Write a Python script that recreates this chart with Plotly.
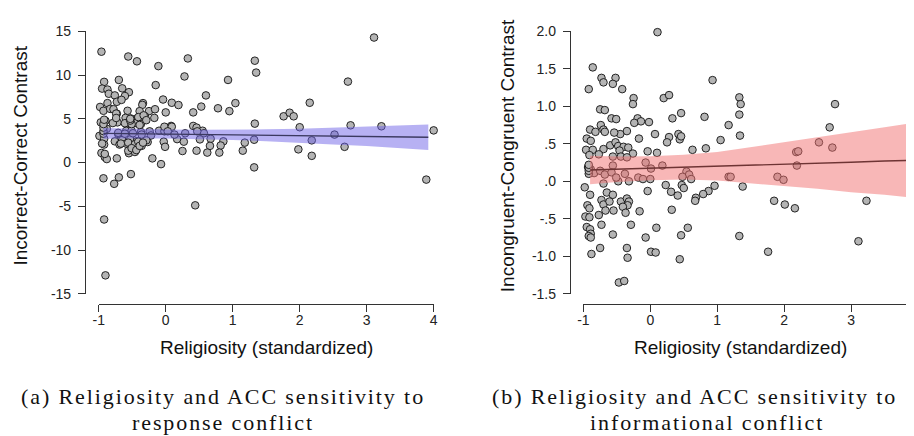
import plotly.graph_objects as go

# ---------------- data: panel (a) ----------------
a_x = [-0.96,-0.56,-0.43,0.33,-0.11,1.33,1.35,3.11,0.28,0.93,2.72,-0.92,-0.70,-0.95,-0.87,-0.85,-0.76,-0.65,-0.55,-0.61,
       -0.73,-0.66,-0.15,-0.04,0.09,0.19,0.60,1.04,0.53,0.78,0.95,0.00,0.41,2.15,1.76,1.85,1.91,-0.98,-0.93,-0.87,
       -0.83,-0.78,-0.57,-0.73,-0.34,-0.35,-0.39,-0.25,-0.31,-0.16,-0.17,-0.43,-0.60,-0.52,-0.90,-0.97,-0.72,-0.79,-0.57,-0.46,
       -0.37,1.33,2.76,3.22,0.41,0.46,-0.01,0.08,2.00,-1.04,-0.88,-0.99,-0.71,-0.59,-0.51,-0.37,-0.24,-0.10,-0.02,0.17,
       0.29,0.55,0.57,4.00,2.52,-0.92,-0.76,-0.65,-0.53,-0.43,-0.27,-0.03,0.27,0.51,0.67,0.86,1.18,1.32,2.18,-0.92,
       -0.69,-0.59,-0.50,-0.43,-0.36,-0.01,0.66,0.82,2.67,-0.96,-0.55,-0.46,0.25,0.46,0.62,0.80,1.15,1.98,-0.91,-0.88,
       -0.73,-0.20,2.18,-0.07,1.32,-0.93,-0.70,-0.52,-0.77,3.89,0.44,-0.92,-0.90,
       -0.74,-0.74,-0.41,-0.33,-0.29,-0.61,-0.51,-0.39,-0.71,-0.61,-0.49,-0.36,-0.22,-0.02,0.09,0.03,0.13,0.47,-0.67,-0.56,
       -0.46,-0.41,-0.29,-0.95,-0.91,-0.56,-0.51,-0.44,-0.39,-0.34,-0.93,-0.93,-0.93,-0.93,-0.92,-0.53,-0.53]
a_y = [12.68,12.13,11.58,11.91,11.03,11.65,10.29,14.30,9.85,9.45,9.26,9.23,9.45,8.46,8.35,7.87,7.68,8.49,8.05,7.61,
       6.95,7.17,8.86,7.21,6.84,6.58,7.68,6.80,6.40,6.21,5.88,5.74,5.74,6.84,5.29,5.70,5.29,6.36,5.92,6.80,
       6.14,6.10,5.92,5.59,6.80,6.60,5.88,5.88,5.29,6.10,5.11,5.04,5.11,5.04,4.78,4.60,4.60,4.52,4.52,4.52,
       4.41,4.45,4.26,4.15,4.19,4.00,4.00,4.19,4.04,3.57,3.86,3.05,3.27,3.64,3.64,3.49,3.57,3.64,3.57,2.68,
       3.35,3.64,3.35,3.68,3.20,2.72,2.43,2.57,2.65,2.46,2.35,2.39,2.39,2.65,2.72,2.43,2.28,2.61,2.54,2.06,
       2.06,2.17,1.73,1.65,1.91,1.80,1.91,1.95,1.80,1.10,1.07,1.21,1.32,1.36,1.14,1.14,1.36,1.51,0.63,0.40,
       0.48,0.48,0.77,-0.18,-0.55,-1.80,-1.69,-1.32,-2.43,-1.95,-4.89,-6.51,-12.90,
       5.60,5.10,5.20,5.40,4.85,4.50,4.40,4.30,3.40,3.30,3.35,3.20,3.10,4.10,4.10,3.57,3.20,3.57,2.17,2.28,
       2.10,2.39,2.54,2.17,0.99,1.36,1.65,1.43,1.91,2.28,3.30,3.60,4.00,4.40,4.90,4.80,5.00]

a_band_x = [-0.93,-0.5,0.0,0.5,1.0,1.5,2.0,2.5,3.0,3.5,3.92]
a_fit    = [3.34,3.30,3.26,3.21,3.17,3.12,3.08,3.03,2.99,2.94,2.90]
a_upper  = [3.96,3.85,3.78,3.74,3.75,3.80,3.88,3.98,4.09,4.21,4.35]
a_lower  = [2.72,2.75,2.74,2.68,2.59,2.44,2.28,2.08,1.89,1.67,1.45]

a_yticks = [15,10,5,0,-5,-10,-15]
a_ytext  = ["15","10","5","0","-5","-10","-15"]

# ---------------- data: panel (b) ----------------
b_x = [0.107,-0.86,-0.92,-0.73,-0.70,-0.52,-0.56,-0.42,0.93,0.20,0.28,-0.25,-0.26,1.33,1.35,1.33,2.76,-0.75,-0.68,0.46,
       -0.58,-0.51,-0.19,-0.14,-0.24,-0.02,0.33,0.81,1.17,2.68,-1.03,-0.90,-0.82,-0.74,-0.70,-0.68,-0.35,-0.45,-0.54,0.07,
       0.42,-0.95,-0.89,-0.17,0.28,0.25,0.44,0.46,1.05,1.34,2.52,-0.96,-0.86,-0.70,-0.60,-0.52,-0.48,-0.40,-0.33,-0.46,
       -0.04,0.10,0.63,0.83,2.72,2.18,2.21,-0.91,-0.77,-0.56,-0.44,-0.26,-0.35,-0.07,-0.56,0.18,2.19,0.01,-0.93,-0.89,
       -0.84,-0.75,-0.68,-0.58,-0.38,0.54,0.58,0.48,0.61,1.17,1.20,1.90,1.99,3.90,3.98,-0.98,-0.70,-0.48,-0.32,-0.18,
       -0.11,0.00,-0.51,0.23,0.47,0.50,0.31,-0.04,0.96,0.87,0.79,1.38,0.41,0.68,0.67,1.85,2.01,2.16,3.23,-0.65,
       -0.56,-0.90,-0.73,-0.70,-0.61,-0.44,-0.35,-0.32,-0.34,-0.41,-0.37,-0.94,-0.91,-0.67,-0.55,-0.16,0.32,-0.77,-0.97,-0.91,
       -0.73,-0.29,-0.95,-0.90,-0.89,-0.92,-0.89,-0.56,0.09,0.56,0.46,1.33,-0.07,3.11,-0.75,-0.35,-0.88,-0.34,0.01,0.08,
       1.76,0.44,-0.47,-0.39,-0.92,-0.92,-0.92,-0.92]
b_y = [1.99,1.52,1.23,1.38,1.32,1.38,1.30,1.23,1.35,1.11,1.15,1.11,1.03,1.12,1.03,0.89,1.03,0.96,0.95,0.91,
       0.84,0.83,0.84,0.80,0.78,0.79,0.84,0.86,0.75,0.72,0.72,0.69,0.66,0.75,0.69,0.66,0.67,0.63,0.65,0.63,
       0.63,0.57,0.54,0.57,0.59,0.52,0.56,0.60,0.55,0.61,0.52,0.42,0.42,0.43,0.48,0.52,0.47,0.46,0.45,0.41,
       0.40,0.38,0.42,0.44,0.45,0.39,0.40,0.35,0.36,0.33,0.33,0.37,0.32,0.25,0.21,0.21,0.21,0.17,0.19,0.16,
       0.11,0.14,0.09,0.12,0.10,0.13,0.09,0.06,0.03,0.06,0.06,0.06,0.02,0.03,0.08,-0.08,-0.03,0.00,0.00,0.05,
       0.03,0.03,0.05,-0.05,-0.05,-0.09,-0.14,-0.13,-0.06,-0.13,-0.17,-0.07,-0.19,-0.22,-0.26,-0.26,-0.31,-0.36,-0.26,-0.15,
       -0.18,-0.18,-0.25,-0.31,-0.27,-0.27,-0.23,-0.27,-0.32,-0.34,-0.42,-0.32,-0.36,-0.39,-0.39,-0.40,-0.38,-0.45,-0.47,-0.48,
       -0.58,-0.58,-0.61,-0.64,-0.70,-0.73,-0.75,-0.71,-0.62,-0.62,-0.72,-0.73,-0.75,-0.80,-0.89,-0.89,-0.97,-1.02,-0.94,-0.95,
       -0.94,-1.04,-1.35,-1.33,0.10,0.14,0.18,0.22]

b_band_x = [-0.9,-0.5,0.0,0.5,1.0,1.5,2.0,2.5,3.0,3.5,3.93]
b_fit    = [0.150,0.160,0.175,0.190,0.200,0.215,0.230,0.240,0.255,0.270,0.280]
b_upper  = [0.340,0.330,0.335,0.355,0.390,0.455,0.520,0.580,0.655,0.720,0.780]
b_lower  = [-0.040,-0.010,0.015,0.025,0.010,-0.025,-0.060,-0.100,-0.145,-0.180,-0.220]

b_yticks = [2.0,1.5,1.0,0.5,0.0,-0.5,-1.0,-1.5]
b_ytext  = ["2.0","1.5","1.0",".5",".0","-.5","-1.0","-1.5"]

x_ticks = [-1,0,1,2,3,4]
x_text  = ["-1","0","1","2","3","4"]

x_title = "Religiosity (standardized)"
a_ytitle = "Incorrect-Correct Contrast"
b_ytitle = "Incongruent-Congruent Contrast"
cap_a = ["(a) Religiosity and ACC sensitivity to", "response conflict"]
cap_b = ["(b) Religiosity and ACC sensitivity to", "informational conflict"]

# ---------------- figure ----------------
W, H = 914, 436
SANS = "Liberation Sans, Arial, sans-serif"
SERIF = "Liberation Serif, Times New Roman, serif"

fig = go.Figure()

def panel(xs, ys, bx, fit, up, lo, band_col, line_col, xa, ya):
    fig.add_trace(go.Scatter(x=xs, y=ys, mode="markers", xaxis=xa, yaxis=ya,
                             cliponaxis=False, hoverinfo="skip",
                             marker=dict(size=7.6, color="#b4b4b4",
                                         line=dict(color="#111111", width=0.9))))
    fig.add_trace(go.Scatter(x=bx + bx[::-1], y=up + lo[::-1], mode="lines", fill="toself",
                             fillcolor=band_col, line=dict(width=0), xaxis=xa, yaxis=ya,
                             hoverinfo="skip"))
    fig.add_trace(go.Scatter(x=bx, y=fit, mode="lines", xaxis=xa, yaxis=ya,
                             line=dict(color=line_col, width=1.4), hoverinfo="skip"))

panel(a_x, a_y, a_band_x, a_fit, a_upper, a_lower, "rgba(112,100,232,0.50)", "#3b3960", "x", "y")
panel(b_x, b_y, b_band_x, b_fit, b_upper, b_lower, "rgba(242,112,112,0.50)", "#6e3434", "x2", "y2")

def px_x(p): return p / W
def px_y(p): return 1 - p / H

tick_font = dict(family=SANS, size=14, color="#222222")
common_x = dict(range=[-1, 4], tickvals=x_ticks, ticktext=x_text, showgrid=False, zeroline=False,
                showline=True, linecolor="#333333", linewidth=1, ticks="outside", ticklen=7,
                tickcolor="#333333", tickfont=tick_font, anchor="free", position=px_y(299.3),
                ticklabelstandoff=-4, ticklabeloverflow="allow")
common_y = dict(showgrid=False, zeroline=False, showline=True, linecolor="#333333", linewidth=1,
                ticks="outside", ticklen=7, tickcolor="#333333", tickfont=tick_font,
                anchor="free", domain=[px_y(288.3), px_y(16)], ticklabelstandoff=4)

fig.update_layout(
    width=W, height=H, margin=dict(l=0, r=0, t=0, b=0),
    paper_bgcolor="white", plot_bgcolor="rgba(0,0,0,0)", showlegend=False,
    xaxis=dict(domain=[px_x(85.7), px_x(424.3)], **common_x),
    yaxis=dict(range=[-15, 15], tickvals=a_yticks, ticktext=a_ytext, position=px_x(71.7), **common_y),
    xaxis2=dict(domain=[px_x(575.7), 1.0], **common_x),
    yaxis2=dict(range=[-1.5, 2.0], tickvals=b_yticks, ticktext=b_ytext, position=px_x(562), **common_y),
)

title_font = dict(family=SANS, size=19, color="#111111")
anns = [
    dict(text=x_title, x=px_x(255), y=px_y(344), font=title_font),
    dict(text=x_title, x=px_x(735), y=px_y(344), font=title_font),
    dict(text=a_ytitle, x=px_x(7), y=px_y(145), font=title_font, textangle=-90),
    dict(text=b_ytitle, x=px_x(499), y=px_y(145), font=title_font, textangle=-90),
]
cap_font = dict(family=SERIF, size=22, color="#111111")
def spaced(t):
    return '<span style="letter-spacing:1.9px">' + t + '</span>'
cap_pos = [(211, 395, cap_a[0]), (211, 422, cap_a[1]), (688, 395, cap_b[0]), (701, 422, cap_b[1])]
for cx, cy, line in cap_pos:
    anns.append(dict(text=spaced(line), x=px_x(cx), y=px_y(cy), font=cap_font))
for a in anns:
    a.update(xref="paper", yref="paper", showarrow=False, xanchor="center", yanchor="middle")
fig.update_layout(annotations=anns)

fig.write_html("out.html")
